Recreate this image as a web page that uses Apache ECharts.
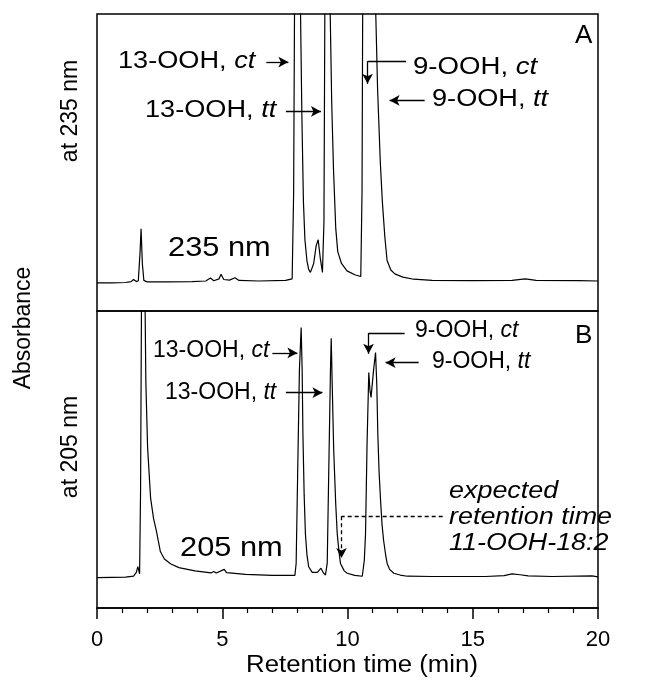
<!DOCTYPE html>
<html>
<head>
<meta charset="utf-8">
<script src="https://cdn.jsdelivr.net/npm/echarts@6/dist/echarts.min.js"></script>
<style>
  html, body { margin: 0; padding: 0; background: #fff; }
  #main { width: 648px; height: 681px; }
</style>
</head>
<body>
<div id="main"></div>
<script>
// retention time (min) and absorbance (arbitrary, 0-100 = panel height), 235 nm trace
const timeA = [0, 0.61, 1.14, 1.36, 1.46, 1.57, 1.65, 1.72, 1.76, 1.81, 1.87, 2.0, 2.74, 3.8, 4.34, 4.53, 4.66, 4.87, 4.95, 5.06, 5.29, 5.51, 5.67, 6.46, 7.53, 7.79,
  7.85, 7.89, 8.01, 8.11, 8.18, 8.24, 8.3, 8.38, 8.45, 8.52, 8.65, 8.75, 8.83, 8.91, 9.0, 9.06, 9.1, 9.21, 9.29, 9.37, 9.44, 9.53, 9.61, 9.76, 9.98, 10.29, 10.53,
  10.58, 10.61, 10.86, 11.1, 11.2, 11.31, 11.39, 11.49, 11.58, 11.73, 11.89, 12.21, 12.64, 13.38, 14.98, 16.57, 17.1, 17.53, 19.23, 20];
const absA = [9.5, 9.5, 9.6, 9.9, 10.6, 9.9, 10.2, 20, 27.7, 16, 10.3, 9.8, 9.8, 9.9, 10.1, 11.1, 10.2, 10.8, 12.4, 10.6, 10.4, 11.2, 10.3, 10.1, 10.3, 10.8,
  40, 110, 160, 110, 65, 37, 24, 17, 14, 13, 16, 22, 24, 18, 13, 30, 110, 160, 110, 70, 48, 28, 20, 16, 13.5, 12.2, 11.6,
  40, 110, 220, 110, 75, 50, 37, 25, 17, 13.8, 12.5, 11.4, 10.7, 10.3, 10.2, 10.3, 10.8, 10.3, 10.2, 10.1];

// 205 nm trace
const timeB = [0, 0.61, 1.14, 1.46, 1.57, 1.63, 1.7, 1.74, 1.78, 1.85, 1.91, 1.95, 2.02, 2.14, 2.26, 2.37, 2.53, 2.69, 2.95, 3.27, 3.91, 4.55, 4.66, 4.76, 5.08, 5.17,
  5.93, 7.0, 7.9, 7.95, 8.01, 8.08, 8.15, 8.19, 8.22, 8.27, 8.32, 8.38, 8.45, 8.59, 8.66, 8.8, 8.94, 9.04, 9.12, 9.19, 9.25, 9.32, 9.35, 9.39, 9.45, 9.53,
  9.59, 9.66, 9.72, 9.87, 9.99, 10.29, 10.59, 10.67, 10.72, 10.78, 10.85, 10.9, 10.94, 11.04, 11.12, 11.17, 11.21, 11.26, 11.32, 11.38, 11.44, 11.52, 11.58,
  11.68, 11.85, 12.1, 12.39, 13.38, 15.51, 16.25, 16.57, 16.89, 17.21, 18.17, 19.76, 20];
const absB = [10.2, 10.3, 10.4, 10.7, 12, 13.9, 11.5, 40, 110, 140, 110, 76, 54, 37, 30, 26, 19, 16.5, 14.8, 13.6, 12.5, 11.8, 12.3, 11.8, 13, 11.9,
  11.3, 11, 11, 15, 45, 80, 94.4, 80, 58.7, 38, 25, 18, 13.9, 12, 11.7, 12, 13.4, 11.8, 11.1, 15, 45, 80, 90.8, 75, 53, 35,
  25, 19, 15, 12.5, 11.7, 11, 10.7, 16, 25, 55, 79.3, 73, 70.9, 80, 86, 75, 58.7, 46, 36.2, 28, 22.8, 18, 15.1,
  13, 11.7, 11.1, 10.7, 10.6, 10.6, 10.9, 11.5, 11.2, 10.8, 10.6, 10.8, 10.5];

const xTicks = [0, 5, 10, 15, 20];

const seriesA = timeA.map((t, i) => [t, absA[i]]);
const seriesB = timeB.map((t, i) => [t, absB[i]]);

const FONT = 'Liberation Sans, Arial, Helvetica, sans-serif';

function arrow(x1, y1, x2, y2, dashed) {
  const ls = { color: '#000', width: 1.3, type: dashed ? [4, 3] : 'solid' };
  return [{ coord: [x1, y1], symbol: 'none', lineStyle: ls }, { coord: [x2, y2], symbol: 'arrow', lineStyle: ls }];
}
function seg(x1, y1, x2, y2, dashed) {
  const ls = { color: '#000', width: 1.3, type: dashed ? [4, 3] : 'solid' };
  return [{ coord: [x1, y1], symbol: 'none', lineStyle: ls }, { coord: [x2, y2], symbol: 'none', lineStyle: ls }];
}

function label(x, y, name, it, size, sx) {
  return {
    type: 'text', x: x, y: y, scaleX: sx || 1, silent: true,
    style: {
      text: '{n|' + name + '}{i|' + it + '}',
      verticalAlign: 'middle',
      rich: {
        n: { fontFamily: FONT, fontSize: size, fill: '#000' },
        i: { fontFamily: FONT, fontSize: size, fontStyle: 'italic', fill: '#000' }
      }
    }
  };
}
function plain(x, y, text, size, opts) {
  opts = opts || {};
  return Object.assign({
    type: 'text', x: x, y: y, silent: true,
    style: Object.assign({ text: text, fontFamily: FONT, fontSize: size, fill: '#000', verticalAlign: 'middle' }, opts.style || {})
  }, opts.el || {});
}

const chart = echarts.init(document.getElementById('main'), null, { renderer: 'canvas' });

const option = {
  backgroundColor: '#fff',
  animation: false,
  grid: [
    { left: 97, top: 14, width: 501, height: 297, show: true, borderColor: '#000', borderWidth: 1.5, backgroundColor: 'transparent' },
    { left: 97, top: 311, width: 501, height: 297, show: true, borderColor: '#000', borderWidth: 1.5, backgroundColor: 'transparent' }
  ],
  xAxis: [
    { gridIndex: 0, type: 'value', min: 0, max: 20, show: false },
    {
      gridIndex: 1, type: 'value', min: 0, max: 20, interval: 5,
      axisLine: { show: true, lineStyle: { color: '#000', width: 1.5 } },
      axisTick: { show: true, inside: false, length: 11, lineStyle: { color: '#000', width: 1.5 } },
      minorTick: { show: true, splitNumber: 5, length: 5, lineStyle: { color: '#000', width: 1.2 } },
      splitLine: { show: false },
      axisLabel: { color: '#000', fontFamily: FONT, fontSize: 22, margin: 21,
        formatter: v => (xTicks.indexOf(v) >= 0 ? String(v) : '') }
    }
  ],
  yAxis: [
    { gridIndex: 0, type: 'value', min: 0, max: 100, show: false },
    { gridIndex: 1, type: 'value', min: 0, max: 100, show: false }
  ],
  series: [
    {
      type: 'line', xAxisIndex: 0, yAxisIndex: 0, data: seriesA, showSymbol: false, clip: true,
      lineStyle: { color: '#000', width: 1.2 },
      markLine: {
        silent: true, animation: false, symbolSize: [8, 10], label: { show: false },
        data: [
          arrow(6.76, 83.8, 7.64, 83.8),
          arrow(7.54, 67.2, 8.94, 67.2),
          seg(12.34, 84.1, 10.8, 84.1),
          arrow(10.8, 84.1, 10.8, 76.5),
          arrow(13.08, 70.9, 11.68, 70.9)
        ]
      }
    },
    {
      type: 'line', xAxisIndex: 1, yAxisIndex: 1, data: seriesB, showSymbol: false, clip: true,
      lineStyle: { color: '#000', width: 1.2 },
      markLine: {
        silent: true, animation: false, symbolSize: [8, 10], label: { show: false },
        data: [
          arrow(7.0, 85.9, 8.0, 85.9),
          arrow(7.54, 72.5, 9.0, 72.5),
          seg(12.28, 92.6, 10.84, 92.6),
          arrow(10.84, 92.6, 10.84, 85.6),
          arrow(12.84, 82.6, 11.52, 82.6),
          seg(13.8, 30.9, 9.76, 30.9, true),
          arrow(9.76, 30.9, 9.76, 16.8, true)
        ]
      }
    }
  ],
  graphic: [
    // panel A
    label(118, 62, '13-OOH, ', 'ct', 23, 1.18),
    label(145, 111, '13-OOH, ', 'tt', 23, 1.18),
    label(413, 68, '9-OOH, ', 'ct', 23, 1.2),
    label(432, 100, '9-OOH, ', 'tt', 23, 1.18),
    plain(575, 36, 'A', 26),
    plain(168, 248, '235 nm', 28, { el: { scaleX: 1.1 } }),
    // panel B
    label(153, 351, '13-OOH, ', 'ct', 23),
    label(165, 393, '13-OOH, ', 'tt', 23),
    label(415, 331, '9-OOH, ', 'ct', 23),
    label(432, 362, '9-OOH, ', 'tt', 23),
    plain(575, 336, 'B', 26),
    plain(180, 548, '205 nm', 28, { el: { scaleX: 1.1 } }),
    plain(449, 492, 'expected', 23, { el: { scaleX: 1.17 }, style: { fontStyle: 'italic' } }),
    plain(449, 518, 'retention time', 23, { el: { scaleX: 1.17 }, style: { fontStyle: 'italic' } }),
    plain(449, 544, '11-OOH-18:2', 23, { el: { scaleX: 1.17 }, style: { fontStyle: 'italic' } }),
    // axis titles
    plain(362, 666, 'Retention time (min)', 23, { el: { scaleX: 1.12 }, style: { align: 'center' } }),
    plain(24, 328, 'Absorbance', 23, { el: { rotation: Math.PI / 2 }, style: { align: 'center' } }),
    plain(71, 111, 'at 235 nm', 23, { el: { rotation: Math.PI / 2 }, style: { align: 'center' } }),
    plain(71, 447, 'at 205 nm', 23, { el: { rotation: Math.PI / 2 }, style: { align: 'center' } })
  ]
};

chart.setOption(option);
</script>
</body>
</html>
